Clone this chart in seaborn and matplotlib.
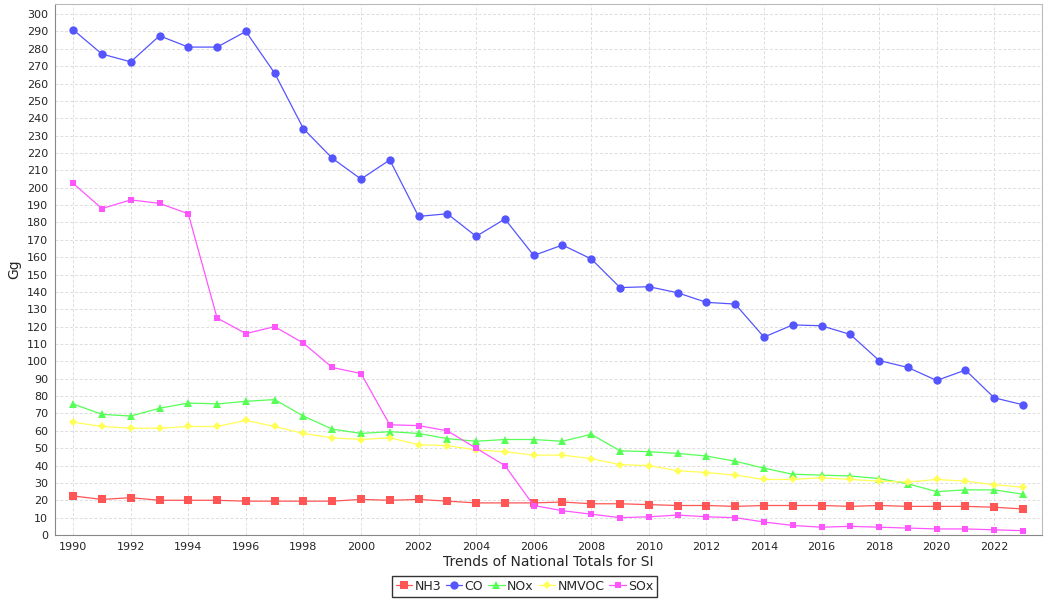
import numpy as np
import pandas as pd
from matplotlib import pyplot as plt
import seaborn as sb

years = list(range(1990, 2024))

nh3 = [22.5, 20.5, 21.5, 20, 20, 20, 19.5, 19.5, 19.5, 19.5, 20.5, 20, 20.5, 19.5, 18.5, 18.5, 18.5,
       19, 18, 18, 17.5, 17, 17, 16.5, 17, 17, 17, 16.5, 17, 16.5, 16.5, 16.5, 16, 15]
co = [291, 277, 272.5, 287.5, 281, 281, 290, 266, 234, 217, 205, 216, 183.5, 185, 172, 182, 161,
      167, 159, 142.5, 143, 139.5, 134, 133, 114, 121, 120.5, 115.5, 100.5, 96.5, 89, 95, 79, 75]
nox = [75.5, 69.5, 68.5, 73, 76, 75.5, 77, 78, 68.5, 61, 58.5, 59.5, 58.5, 55.5, 54, 55, 55,
       54, 58, 48.5, 48, 47, 45.5, 42.5, 38.5, 35, 34.5, 34, 32.5, 29.5, 25, 26, 26, 23.5]
nmvoc = [65, 62.5, 61.5, 61.5, 62.5, 62.5, 66, 62.5, 58.5, 56, 55, 56, 52, 51.5, 49, 48, 46,
         46, 44, 40.5, 40, 37, 36, 34.5, 32, 32, 33, 32, 31, 30.5, 32, 31, 29, 27.5]
sox = [202.5, 188, 193, 191, 185, 125, 116, 120, 110.5, 96.5, 93, 63.5, 63, 60, 50, 40, 17,
       14, 12, 10, 10.5, 11.5, 10.5, 10, 7.5, 5.5, 4.5, 5, 4.5, 4, 3.5, 3.5, 3, 2.5]

series = {"NH3": nh3, "CO": co, "NOx": nox, "NMVOC": nmvoc, "SOx": sox}
colors = {"NH3": "#FF5555", "CO": "#5555FF", "NOx": "#55FF55", "NMVOC": "#FFFF55", "SOx": "#FF55FF"}
markers = {"NH3": "s", "CO": "o", "NOx": "^", "NMVOC": "D", "SOx": "s"}
msizes = {"NH3": 6, "CO": 6, "NOx": 6, "NMVOC": 4.5, "SOx": 4}

df = pd.DataFrame([(y, k, v) for k, vals in series.items() for y, v in zip(years, vals)],
                  columns=["year", "pollutant", "value"])

sb.set_style("white")
plt.rcParams["font.family"] = ["DejaVu Sans"]

fig = plt.figure(figsize=(10.5, 6), dpi=100)
ax = fig.add_axes([0.0524, 0.1083, 0.94, 0.885])

for name in series:
    sub = df[df["pollutant"] == name]
    sb.lineplot(data=sub, x="year", y="value", ax=ax, color=colors[name], marker=markers[name],
                markersize=msizes[name], markeredgewidth=0, linewidth=0.9, label=name)

ax.set_xlim(1989.37, 2023.66)
ax.set_ylim(0, 305.8)
ax.set_xticks(range(1990, 2024, 2))
ax.set_yticks(range(0, 301, 10))
ax.tick_params(axis="both", labelsize=8, length=3, color="#888888", pad=2)
ax.grid(True, color="#dddddd", linestyle=(0, (3, 2)), linewidth=0.7)
for s in ["left", "bottom"]:
    ax.spines[s].set_color("#888888")
for s in ["top", "right"]:
    ax.spines[s].set_color("#bbbbbb")
ax.set_xlabel("Trends of National Totals for SI", fontsize=10, labelpad=2)
ax.set_ylabel("Gg", fontsize=10, labelpad=4)

leg = ax.legend(loc="upper center", bbox_to_anchor=(0.4995, 0.04), bbox_transform=fig.transFigure,
                ncol=5, fontsize=9, frameon=True, fancybox=False, edgecolor="black",
                handlelength=1.3, handletextpad=0.2, columnspacing=0.4, borderpad=0.3,
                borderaxespad=0)
leg.get_frame().set_linewidth(1.0)

fig.savefig("out.png", dpi=100)
